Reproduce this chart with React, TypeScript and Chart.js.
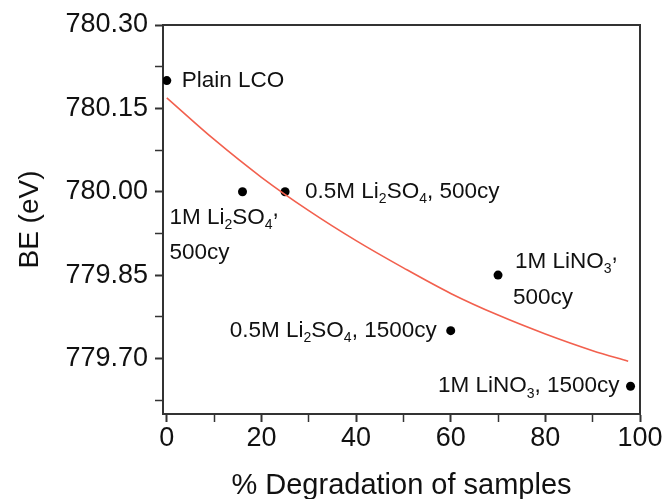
import React, { useEffect, useRef } from 'react';
import { Chart, registerables } from 'chart.js';

Chart.register(...registerables);

// ---- data ----
const sampleLabels = [
  'Plain LCO',
  '1M Li_2SO_4^,\n500cy',
  '0.5M Li_2SO_4, 500cy',
  '1M LiNO_3^,\n500cy',
  '0.5M Li_2SO_4, 1500cy',
  '1M LiNO_3, 1500cy',
];
const degradationPct = [0, 16, 25, 70, 60, 98];
const bindingEnergy = [780.2, 780.0, 780.0, 779.85, 779.75, 779.65];

const fitDegradation = [0, 10, 20, 30, 40, 50, 60, 70, 80, 90, 97.5];
const fitEnergy = [780.169, 780.094, 780.026, 779.966, 779.912, 779.863, 779.817, 779.778, 779.744, 779.714, 779.695];

const xMajorTicks = [0, 20, 40, 60, 80, 100];
const xMinorTicks = [10, 30, 50, 70, 90];
const yMajorTicks = [779.7, 779.85, 780.0, 780.15, 780.3];
const yMinorTicks = [779.625, 779.775, 779.925, 780.075, 780.225];

const xTitle = '% Degradation of samples';
const yTitle = 'BE (eV)';

// ---- styling ----
const FONT = '"Liberation Sans", Arial, Helvetica, sans-serif';
const AXIS = '#333333';
const labelPlacement = [
  { align: 'left', dx: [15], dy: [0] },
  { align: 'left', dx: [-73, -73], dy: [26, 61] },
  { align: 'left', dx: [20], dy: [0] },
  { align: 'left', dx: [17, 15], dy: [-13, 23] },
  { align: 'right', dx: [-14], dy: [0] },
  { align: 'right', dx: [-11], dy: [0] },
];

type Seg = { t: string; kind: 'n' | 'sub' | 'sup' };
function parseLine(line: string): Seg[] {
  const segs: Seg[] = [];
  let buf = '';
  for (let i = 0; i < line.length; i++) {
    const c = line[i];
    if ((c === '_' || c === '^') && i + 1 < line.length) {
      if (buf) { segs.push({ t: buf, kind: 'n' }); buf = ''; }
      segs.push({ t: line[i + 1], kind: c === '_' ? 'sub' : 'sup' });
      i++;
    } else buf += c;
  }
  if (buf) segs.push({ t: buf, kind: 'n' });
  return segs;
}

const labelPlugin = {
  id: 'sampleLabels',
  afterDatasetsDraw(chart: any) {
    const ctx = chart.ctx as CanvasRenderingContext2D;
    const xs = chart.scales.x;
    const ys = chart.scales.y;
    ctx.save();
    ctx.fillStyle = '#111';
    ctx.textBaseline = 'middle';
    sampleLabels.forEach((lab, i) => {
      const px = xs.getPixelForValue(degradationPct[i]);
      const py = ys.getPixelForValue(bindingEnergy[i]);
      const pl = labelPlacement[i];
      lab.split('\n').forEach((line, li) => {
        const segs = parseLine(line);
        const fontFor = (k: string) => (k === 'sub' ? `14px ${FONT}` : `22.5px ${FONT}`);
        let w = 0;
        segs.forEach((s) => { ctx.font = fontFor(s.kind); w += ctx.measureText(s.t).width; });
        let x = px + pl.dx[li];
        if (pl.align === 'right') x -= w;
        const y = py + pl.dy[li];
        segs.forEach((s) => {
          ctx.font = fontFor(s.kind);
          const off = s.kind === 'sub' ? 7.5 : s.kind === 'sup' ? -8 : 0;
          ctx.fillText(s.t, x, y + off);
          x += ctx.measureText(s.t).width;
        });
      });
    });
    ctx.restore();
  },
};

const framePlugin = {
  id: 'frame',
  beforeDatasetsDraw(chart: any) {
    const { ctx, chartArea } = chart;
    ctx.save();
    ctx.strokeStyle = AXIS;
    ctx.lineWidth = 2;
    ctx.beginPath();
    ctx.moveTo(chartArea.left, chartArea.top);
    ctx.lineTo(chartArea.right, chartArea.top);
    ctx.lineTo(chartArea.right, chartArea.bottom);
    ctx.stroke();
    ctx.restore();
  },
};

export default function App() {
  const ref = useRef<HTMLCanvasElement>(null);
  useEffect(() => {
    if (!ref.current) return;
    const xAll = [...xMajorTicks, ...xMinorTicks].sort((a, b) => a - b);
    const yAll = [...yMajorTicks, ...yMinorTicks].sort((a, b) => a - b);
    const isMajor = (arr: number[], v: number) => arr.some((m) => Math.abs(m - v) < 1e-6);
    const chart = new Chart(ref.current, {
      type: 'scatter',
      data: {
        datasets: [
          {
            type: 'line',
            data: fitDegradation.map((x, i) => ({ x, y: fitEnergy[i] })),
            borderColor: '#f2604e',
            borderWidth: 1.6,
            pointRadius: 0,
            tension: 0.4,
            cubicInterpolationMode: 'monotone',
            fill: false,
          } as any,
          {
            data: degradationPct.map((x, i) => ({ x, y: bindingEnergy[i] })),
            backgroundColor: '#000',
            borderColor: '#000',
            pointRadius: 4.5,
            borderWidth: 0,
          },
        ],
      },
      options: {
        responsive: false,
        animation: false,
        devicePixelRatio: 1,
        layout: { padding: { left: 16, right: 27, top: 25, bottom: 0 } },
        plugins: { legend: { display: false }, tooltip: { enabled: false } },
        scales: {
          x: {
            type: 'linear',
            min: -0.8,
            max: 100,
            afterBuildTicks: (s: any) => { s.ticks = xAll.map((v) => ({ value: v })); },
            afterFit: (s: any) => { s.height = 85; },
            border: { display: true, color: AXIS, width: 2 },
            grid: {
              drawOnChartArea: false,
              drawTicks: true,
              tickLength: 8,
              tickColor: AXIS,
              tickWidth: (c: any) => (isMajor(xMajorTicks, c.tick?.value) ? 2 : 1.5),
            },
            ticks: {
              autoSkip: false,
              maxRotation: 0,
              padding: 0,
              color: '#111',
              font: { family: FONT, size: 27 },
              callback: (v: any) => (isMajor(xMajorTicks, Number(v)) ? String(v) : ''),
            },
            title: {
              display: true,
              text: xTitle,
              color: '#111',
              font: { family: FONT, size: 29, lineHeight: 1 },
              padding: { top: 0, bottom: -1 },
            },
          },
          y: {
            type: 'linear',
            min: 779.6,
            max: 780.3,
            afterBuildTicks: (s: any) => { s.ticks = yAll.map((v) => ({ value: v })); },
            afterFit: (s: any) => { s.width = 147; },
            border: { display: true, color: AXIS, width: 2 },
            grid: {
              drawOnChartArea: false,
              drawTicks: true,
              tickLength: 8,
              tickColor: AXIS,
              tickWidth: (c: any) => (isMajor(yMajorTicks, c.tick?.value) ? 2 : 1.5),
            },
            ticks: {
              autoSkip: false,
              padding: 7,
              color: '#111',
              font: { family: FONT, size: 27 },
              callback: (v: any) => (isMajor(yMajorTicks, Number(v)) ? Number(v).toFixed(2) : ''),
            },
            title: {
              display: true,
              text: yTitle,
              color: '#111',
              font: { family: FONT, size: 28, lineHeight: 1 },
              padding: { top: 0, bottom: 0 },
            },
          },
        },
      } as any,
      plugins: [framePlugin, labelPlugin],
    });
    return () => chart.destroy();
  }, []);
  return (
    <div style={{ position: 'fixed', left: 0, top: 0, width: 667, height: 499, background: '#fff' }}>
      <canvas ref={ref} width={667} height={499} style={{ display: 'block' }} />
    </div>
  );
}
